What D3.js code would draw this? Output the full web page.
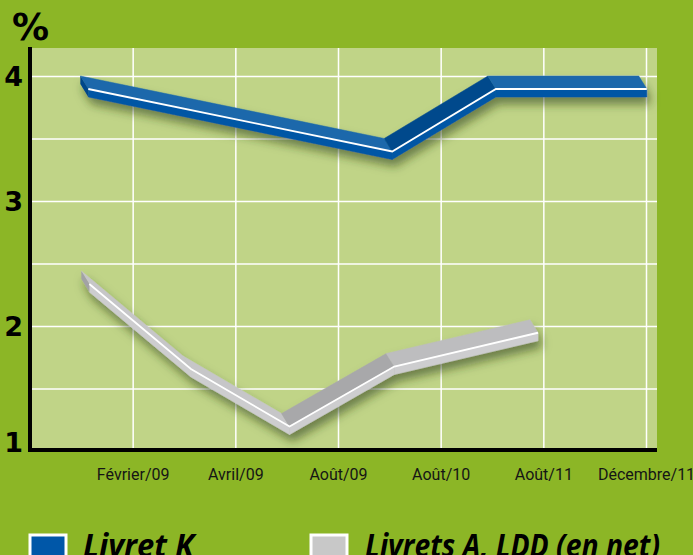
<!DOCTYPE html>
<html>
<head>
<meta charset="utf-8">
<script src="https://cdn.jsdelivr.net/npm/d3@7"></script>
<style>
body{margin:0;background:#8cb626;overflow:hidden;}
</style>
</head>
<body>
<div id="graph"></div>
<script>
let w = 693;
let h = 555;

let xLabels = ["Février/09", "Avril/09", "Août/09", "Août/10", "Août/11", "Décembre/11"];
let xLabelPos = [1, 2, 3, 4, 5, 6];
let yTicks = [1, 2, 3, 4];
let yGrid = [1.5, 2, 2.5, 3, 3.5, 4];

// x = place on the month axis (0 = y axis, 1 = Février/09, 2 = Avril/09 ...)
let livretKX = [0.49, 3.45, 4.46, 5.93];
let livretKValues = [4.0, 3.5, 4.0, 4.0];
let livretAX = [0.5, 1.49, 2.45, 3.47, 4.87];
let livretAValues = [2.44, 1.76, 1.3, 1.78, 2.05];

let legendNames = ["Livret K", "Livrets A, LDD (en net)"];

let plotLeft = 30;
let plotRight = 657;
let plotTop = 48;
let plotBottom = 450;

let xScale = d3.scaleLinear().domain([0, 6]).range([plotLeft, 646]);
let yScale = d3.scaleLinear().domain([1, 4]).range([451, 76]);

let viz = d3.select("#graph")
  .append("svg")
    .attr("width", w)
    .attr("height", h)
;

viz.append("rect")
  .attr("width", w)
  .attr("height", h)
  .attr("fill", "#8cb626")
;

// drop shadow for the ribbons
let defs = viz.append("defs");
let shadow = defs.append("filter").attr("id", "shadow")
  .attr("x", "-20%").attr("y", "-20%").attr("width", "140%").attr("height", "160%");
shadow.append("feDropShadow")
  .attr("dx", 3).attr("dy", 7)
  .attr("stdDeviation", 5)
  .attr("flood-color", "#2a3a10")
  .attr("flood-opacity", 0.55)
;

viz.append("rect")
  .attr("x", plotLeft)
  .attr("y", plotTop)
  .attr("width", plotRight - plotLeft)
  .attr("height", plotBottom - plotTop)
  .attr("fill", "#c0d487")
;

// grid
let hGrid = d3.axisLeft(yScale).tickValues(yGrid).tickSize(-(plotRight - plotLeft)).tickFormat("");
let hGridGroup = viz.append("g").attr("class", "hgrid")
  .attr("transform", "translate(" + plotLeft + ",0)")
  .call(hGrid);
hGridGroup.select(".domain").remove();
hGridGroup.selectAll("line").attr("stroke", "#ffffff").attr("stroke-width", 1.5);

let vGrid = d3.axisBottom(xScale).tickValues(xLabelPos).tickSize(-(plotBottom - plotTop)).tickFormat("");
let vGridGroup = viz.append("g").attr("class", "vgrid")
  .attr("transform", "translate(0," + plotBottom + ")")
  .call(vGrid);
vGridGroup.select(".domain").remove();
vGridGroup.selectAll("line").attr("stroke", "#ffffff").attr("stroke-width", 1.5);

// axes
let xAxis = d3.axisBottom(xScale).tickValues(xLabelPos).tickSize(0)
  .tickFormat(function(d, i){ return xLabels[i]; });
let xAxisGroup = viz.append("g").attr("class", "xaxis")
  .attr("transform", "translate(0," + plotBottom + ")")
  .call(xAxis);
xAxisGroup.select(".domain").remove();
xAxisGroup.selectAll("text")
  .attr("y", 30)
  .attr("dy", 0)
  .attr("fill", "#151515")
  .style("font-family", "Roboto")
  .style("font-size", "16px")
;

let yAxis = d3.axisLeft(yScale).tickValues(yTicks).tickSize(0).tickPadding(7)
  .tickFormat(d3.format("d"));
let yAxisGroup = viz.append("g").attr("class", "yaxis")
  .attr("transform", "translate(" + plotLeft + ",0)")
  .call(yAxis);
yAxisGroup.select(".domain").remove();
yAxisGroup.selectAll("text")
  .attr("fill", "#000")
  .attr("dy", function(d){ return d == 1 ? "0em" : "0.34em"; })
  .style("font-family", "DejaVu Sans")
  .style("font-weight", "bold")
  .style("font-size", "27px")
;

viz.append("text")
  .text("%")
  .attr("x", 12)
  .attr("y", 40)
  .attr("fill", "#000")
  .style("font-family", "DejaVu Sans")
  .style("font-weight", "bold")
  .style("font-size", "37px")
;

viz.append("line")
  .attr("x1", plotLeft).attr("x2", plotLeft)
  .attr("y1", plotTop - 1).attr("y2", plotBottom + 2)
  .attr("stroke", "#000").attr("stroke-width", 4);
viz.append("line")
  .attr("x1", plotLeft - 2).attr("x2", plotRight)
  .attr("y1", plotBottom).attr("y2", plotBottom)
  .attr("stroke", "#000").attr("stroke-width", 4);

// 3d ribbons
let depthX = 8;
let depthY = 13;
let thick = 8;

function drawRibbon(xs, values, colors){
  let g = viz.append("g").attr("filter", "url(#shadow)");
  let back = xs.map(function(x, i){ return [xScale(x), yScale(values[i])]; });
  let front = back.map(function(p){ return [p[0] + depthX, p[1] + depthY]; });

  for(let i = 0; i < back.length - 1; i++){
    let slope = (back[i+1][1] - back[i][1]) / (back[i+1][0] - back[i][0]);
    let t = Math.max(0, Math.min(1, (-slope - 0.1) / 0.45));
    let topColor = d3.interpolateRgb(colors.top, colors.dark)(t);
    g.append("path")
      .attr("d", d3.line()([back[i], back[i+1], front[i+1], front[i]]) + "Z")
      .attr("fill", topColor)
      .attr("stroke", topColor)
      .attr("stroke-width", 0.5);
    g.append("path")
      .attr("d", d3.line()([front[i], front[i+1], [front[i+1][0], front[i+1][1] + thick], [front[i][0], front[i][1] + thick]]) + "Z")
      .attr("fill", colors.front)
      .attr("stroke", colors.front)
      .attr("stroke-width", 0.5);
  }

  // left end
  g.append("path")
    .attr("d", d3.line()([back[0], front[0], [front[0][0], front[0][1] + thick], [back[0][0], back[0][1] + thick]]) + "Z")
    .attr("fill", colors.cap);

  g.append("path")
    .attr("d", d3.line()(front))
    .attr("fill", "none")
    .attr("stroke", "#ffffff")
    .attr("stroke-width", 1.8);
}

drawRibbon(livretKX, livretKValues, {top: "#1b68ab", dark: "#004a8c", front: "#0357a5", cap: "#00468a"});
drawRibbon(livretAX, livretAValues, {top: "#c6c6c8", dark: "#a8a8aa", front: "#cdcdcf", cap: "#a2a2a5"});

// legend
let legendColors = ["#0057a8", "#c8c8c8"];
let legendX = [30, 311];
let legendTextX = [83, 365];
let legendTextW = [111, 295];

let legend = viz.selectAll(".legend").data(legendNames).enter()
  .append("g")
  .attr("class", "legend");

legend.append("rect")
  .attr("x", function(d, i){ return legendX[i]; })
  .attr("y", 535)
  .attr("width", 36)
  .attr("height", 24)
  .attr("fill", function(d, i){ return legendColors[i]; })
  .attr("stroke", "#ffffff")
  .attr("stroke-width", 3);

legend.append("text")
  .text(function(d){ return d; })
  .attr("x", function(d, i){ return legendTextX[i]; })
  .attr("y", 557)
  .attr("textLength", function(d, i){ return legendTextW[i]; })
  .attr("lengthAdjust", "spacingAndGlyphs")
  .attr("fill", "#000")
  .style("font-family", "Open Sans")
  .style("font-weight", "bold")
  .style("font-style", "italic")
  .style("font-size", "32px");
</script>
</body>
</html>
